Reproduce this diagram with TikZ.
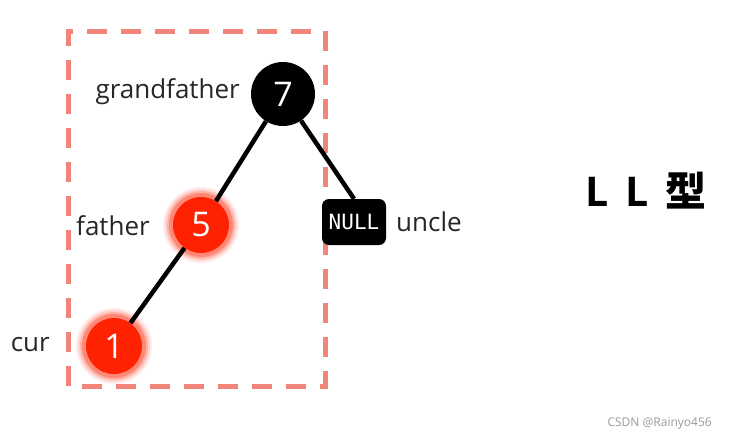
\documentclass[tikz,border=0pt]{standalone}
\usepackage{fontspec}
\setmainfont{Open Sans}
\newfontfamily\cjkf{Noto Sans CJK SC}
\newfontfamily\monof{DejaVu Sans Mono}
\definecolor{boxred}{HTML}{F2857A}
\definecolor{nodered}{HTML}{FF2200}
\definecolor{wm}{HTML}{9A9A9A}
\tikzset{
  edge/.style={line width=4.5pt, black},
  blacknode/.style={circle, fill=black, minimum size=64pt, inner sep=0pt, text=white, font=\fontsize{34}{36}\selectfont},
  rednode/.style={circle, fill=nodered, minimum size=56pt, inner sep=0pt, text=white, font=\fontsize{34}{36}\selectfont},
  nullnode/.style={rounded corners=7pt, fill=black, minimum width=64pt, minimum height=46pt, inner sep=0pt, text=white, font=\monof\fontsize{21}{24}\selectfont},
  lbl/.style={font=\fontsize{26}{28}\selectfont, text=black!85, inner sep=0pt},
}
\begin{document}
\begin{tikzpicture}[x=1pt,y=-1pt]
\useasboundingbox[fill=white] (0,0) rectangle (729,437);
% dashed box
\draw[boxred, line width=5pt, dash pattern=on 20pt off 14pt] (68,386) -- (68,31) -- (325,31) -- (325,386) -- cycle;
% nodes
\node[blacknode] (g) at (283,94) {7};
\foreach \r/\o in {38/0.08,36/0.12,34/0.18,32/0.3}{
  \fill[nodered, opacity=\o] (201,225) circle (\r);
  \fill[nodered, opacity=\o] (114,346) circle (\r);
}
\node[rednode] (f) at (201,225) {5};
\node[rednode] (c) at (114,346) {1};
\node[nullnode] (u) at (354,222) {NULL};
% edges
\draw[edge] (g) -- (f);
\draw[edge] (f) -- (c);
\draw[edge] (g) -- (u.north);
% labels
\node[lbl, anchor=east] (lg) at (240,92) {grandfather};
\node[lbl, anchor=east] (lf) at (150,226) {father};
\node[lbl, anchor=east] (lc) at (50,345) {cur};
\node[lbl, anchor=west] (lu) at (396,222) {uncle};
\node[anchor=center, inner sep=0pt] (ll) at (646,191) {\fontsize{41}{44}\selectfont\bfseries L\hspace{17pt}L\hspace{17pt}{\cjkf\bfseries 型}};
\node[anchor=east, inner sep=0pt, text=wm, font=\fontsize{12}{14}\selectfont] (w) at (712,424) {CSDN @Rainyo456};
\end{tikzpicture}
\end{document}
